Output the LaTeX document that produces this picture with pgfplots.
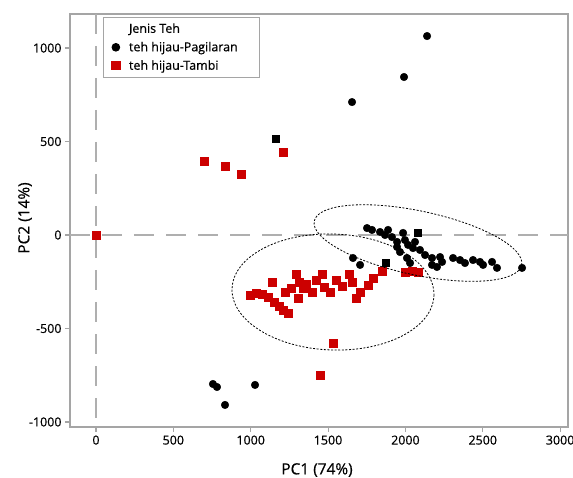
\documentclass[border=0pt]{standalone}
\usepackage{fontspec}
\setmainfont{Open Sans}
\newfontfamily\heavy[FakeBold=0.5]{Open Sans}
\usepackage{pgfplots}
\pgfplotsset{compat=1.18}
\definecolor{tehred}{RGB}{204,0,0}
\definecolor{framegray}{RGB}{165,165,165}
\definecolor{refgray}{RGB}{175,175,175}

% teh hijau-Pagilaran (PC1, PC2)
\pgfplotstableread{
x y
2140 1064
1991 845
1655 711
756 -797
782 -813
834 -909
1028 -802
1752 37
1784 27
1836 16
1868 0
1888 27
1913 -11
1946 -37
1985 11
1997 -27
2017 -53
2049 -70
2062 -37
2094 -80
2127 -107
2172 -123
2224 -118
2237 -144
2204 -171
2172 -160
2010 -123
2030 -150
2308 -123
2353 -134
2385 -150
2437 -134
2482 -144
2502 -160
2560 -144
2592 -176
2754 -176
1661 -123
1707 -160
1965 -91
1946 -64
}\pagilaran

% Pagilaran points drawn as squares in the source
\pgfplotstableread{
x y
1164 513
2081 11
1875 -150
}\pagsq

% teh hijau-Tambi
\pgfplotstableread{
x y
0 0
698 396
834 369
937 326
1209 444
1532 -578
1448 -749
995 -321
1034 -310
1073 -316
1112 -332
1138 -251
1151 -358
1183 -380
1209 -401
1241 -417
1222 -305
1261 -283
1293 -209
1312 -251
1306 -337
1338 -283
1357 -262
1396 -305
1422 -241
1461 -209
1474 -278
1513 -305
1551 -241
1590 -273
1635 -209
1655 -251
1681 -337
1707 -305
1758 -267
1791 -230
1849 -193
1997 -198
2043 -193
2081 -198
}\tambi

\begin{document}
\begin{tikzpicture}
\begin{axis}[
  scale only axis, width=498bp, height=413bp,
  xmin=-168, xmax=3051, ymin=-1027, ymax=1182,
  xtick={0,500,1000,1500,2000,2500,3000},
  ytick={-1000,-500,0,500,1000},
  axis line style={framegray, line width=1.1bp},
  tick style={framegray, line width=1.1bp},
  tick align=outside, xtick pos=left, ytick pos=left,
  major tick length=5bp,
  /pgf/number format/assume math mode=true,
  /pgf/number format/1000 sep={},
  ticklabel style={font=\heavy\fontsize{12.5}{14}\selectfont},
  xlabel={PC1 (74\%)}, ylabel={PC2 (14\%)},
  label style={font=\heavy\fontsize{15.5}{18}\selectfont},
  xlabel style={at={(axis description cs:0.496,0)}, anchor=center, yshift=-43bp},
  ylabel style={at={(axis description cs:0,0.506)}, anchor=center, rotate=0, yshift=45bp},
  legend style={at={(0.066,0.993)}, anchor=north west, draw=framegray,
    line width=1bp, font=\heavy\fontsize{12.5}{14}\selectfont,
    inner xsep=4bp, inner ysep=4bp, row sep=3.5bp, cells={anchor=west},
    /tikz/every odd column/.append style={column sep=7bp}},
  legend cell align=left,
]
\draw[refgray, line width=1.5bp, dash pattern=on 20bp off 12bp]
  (axis cs:-168,0) -- (axis cs:3051,0);
\draw[refgray, line width=1.5bp, dash pattern=on 20bp off 12bp]
  (axis cs:0,1182) -- (axis cs:0,-1027);
\coordinate (e1) at (axis cs:1532,-305);
\coordinate (e2) at (axis cs:2081,-43);

\addlegendimage{empty legend}
\addlegendentry{Jenis Teh}
\addplot[only marks, mark=*, mark size=3.8bp, black] table {\pagilaran};
\addlegendentry{teh hijau-Pagilaran\hspace*{16bp}}
\addplot[only marks, mark=square*, mark size=4.2bp, draw=tehred, fill=tehred,
  mark options={draw=tehred, fill=tehred}] table {\tambi};
\addlegendentry{teh hijau-Tambi}
\addplot[only marks, mark=square*, mark size=3.5bp, black, forget plot] table {\pagsq};
\end{axis}
\draw[black, line width=0.8bp, dash pattern=on 2bp off 1.6bp]
  (e1) ellipse [x radius=101bp, y radius=58bp, rotate=-2];
\draw[black, line width=0.8bp, dash pattern=on 2bp off 1.6bp]
  (e2) ellipse [x radius=106bp, y radius=32bp, rotate=-12];
\pgfresetboundingbox
\path (current axis.south west) ++(-70bp,-51bp) rectangle ++(573bp,478bp);
\end{tikzpicture}
\end{document}
